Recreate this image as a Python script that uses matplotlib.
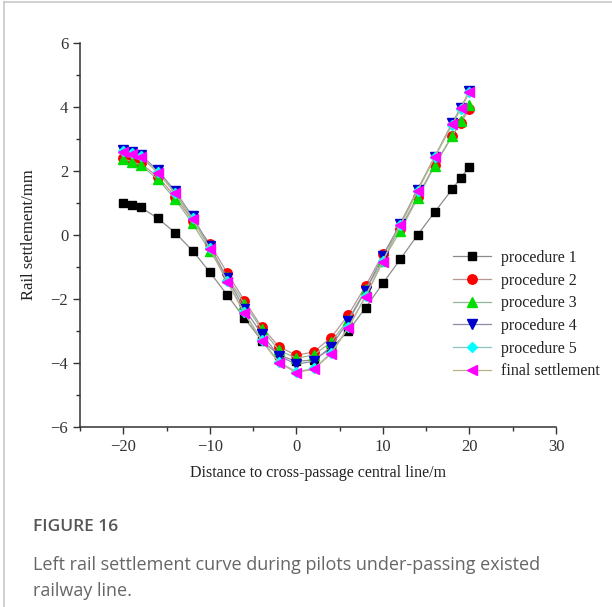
import matplotlib
matplotlib.use('Agg')
import matplotlib.pyplot as plt
from matplotlib.lines import Line2D
from matplotlib.ticker import MultipleLocator

# distance to cross-passage central line (m)
x = [-20, -19, -18, -16, -14, -12, -10, -8, -6, -4, -2, 0,
     2, 4, 6, 8, 10, 12, 14, 16, 18, 19, 20]

# rail settlement (mm)
proc1 = [1.0, 0.95, 0.87, 0.52, 0.07, -0.49, -1.16, -1.87, -2.6, -3.3, -3.75, -3.95,
         -3.9, -3.55, -3.0, -2.27, -1.51, -0.76, 0.0, 0.72, 1.43, 1.79, 2.13]
proc2 = [2.42, 2.33, 2.24, 1.82, 1.2, 0.45, -0.27, -1.18, -2.05, -2.88, -3.49, -3.76,
         -3.65, -3.21, -2.5, -1.59, -0.6, 0.2, 1.2, 2.2, 3.1, 3.5, 3.95]
proc3 = [2.38, 2.29, 2.19, 1.74, 1.12, 0.36, -0.5, -1.3, -2.15, -2.95, -3.6, -3.85,
         -3.75, -3.35, -2.65, -1.7, -0.8, 0.13, 1.15, 2.17, 3.09, 3.57, 4.05]
proc4 = [2.67, 2.58, 2.5, 2.02, 1.37, 0.58, -0.35, -1.35, -2.3, -3.1, -3.78, -4.04,
         -3.94, -3.49, -2.69, -1.74, -0.65, 0.35, 1.42, 2.45, 3.5, 3.98, 4.5]
proc5 = [2.63, 2.55, 2.47, 1.97, 1.32, 0.52, -0.42, -1.43, -2.42, -3.28, -3.97, -4.27,
         -4.17, -3.7, -2.88, -1.9, -0.8, 0.3, 1.37, 2.44, 3.45, 3.95, 4.47]
final = [2.6, 2.53, 2.45, 1.95, 1.3, 0.5, -0.43, -1.46, -2.45, -3.31, -4.0, -4.3,
         -4.19, -3.72, -2.9, -1.93, -0.83, 0.31, 1.38, 2.45, 3.46, 3.96, 4.48]

labels = ['procedure 1', 'procedure 2', 'procedure 3', 'procedure 4',
          'procedure 5', 'final settlement']
series = [proc1, proc2, proc3, proc4, proc5, final]

markers = ['s', 'o', '^', 'v', 'D', '<']
face_colors = ['#000000', '#ff0000', '#00dd00', '#0000cc', '#00ffff', '#ff00ff']
line_colors = ['#8c8c8c', '#b89696', '#96b496', '#8c8ca8', '#90c4c4', '#bcb084']
sizes = [6.3, 6.8, 6.8, 6.8, 5.3, 7.2]

plt.rcParams['font.family'] = ['Liberation Serif', 'DejaVu Serif']

fig = plt.figure(figsize=(6.12, 6.07), dpi=100)
ax = fig.add_axes([0.1307, 0.2965, 0.7778, 0.6327])

for ys, lab, m, fc, lc, ms in zip(series, labels, markers, face_colors, line_colors, sizes):
    ax.plot(x, ys, color=lc, linewidth=0.9, marker=m, markersize=ms,
            markerfacecolor=fc, markeredgecolor=fc, label=lab)

ax.set_xlim(-25, 30)
ax.set_ylim(-6, 6)
ax.xaxis.set_major_locator(MultipleLocator(10))
ax.xaxis.set_minor_locator(MultipleLocator(5))
ax.yaxis.set_major_locator(MultipleLocator(2))
ax.yaxis.set_minor_locator(MultipleLocator(1))

for side in ['top', 'right']:
    ax.spines[side].set_visible(False)
for side in ['left', 'bottom']:
    ax.spines[side].set_color('#333333')
    ax.spines[side].set_linewidth(1.1)

ax.tick_params(which='major', direction='out', length=5, width=1.0,
               colors='#333333', labelsize=12)
ax.tick_params(which='minor', direction='out', length=3, width=1.0, colors='#333333')
for lab in ax.get_xticklabels() + ax.get_yticklabels():
    lab.set_color('#333333')

ax.set_xlabel('Distance to cross-passage central line/m', fontsize=11.5,
              color='#222222', labelpad=7)
ax.set_ylabel('Rail settlement/mm', fontsize=12, color='#222222', labelpad=10)

leg = ax.legend(loc='upper left', bbox_to_anchor=(0.77, 0.478), frameon=False,
                fontsize=11.5, handlelength=2.4, handletextpad=0.6,
                labelspacing=0.42, borderaxespad=0)
for t in leg.get_texts():
    t.set_color('#222222')

# caption block
fig.text(33 / 612, 1 - 527 / 607, 'FIGURE 16', family='Open Sans', fontsize=12.5,
         fontweight='semibold', color='#555555', va='center', ha='left')
fig.text(33 / 612, 1 - 565 / 607,
         'Left rail settlement curve during pilots under-passing existed',
         family='Open Sans', fontsize=13, color='#666666', va='center', ha='left')
fig.text(33 / 612, 1 - 591 / 607, 'railway line.', family='Open Sans',
         fontsize=13, color='#666666', va='center', ha='left')

# thin page frame on the top and left edge
fig.add_artist(Line2D([4 / 612, 4 / 612], [0, 1 - 2 / 607], color='#c8c8c8',
                      linewidth=1.2, transform=fig.transFigure))
fig.add_artist(Line2D([4 / 612, 1], [1 - 2 / 607, 1 - 2 / 607], color='#c8c8c8',
                      linewidth=1.2, transform=fig.transFigure))

fig.savefig('out.png', dpi=100, facecolor='white')
